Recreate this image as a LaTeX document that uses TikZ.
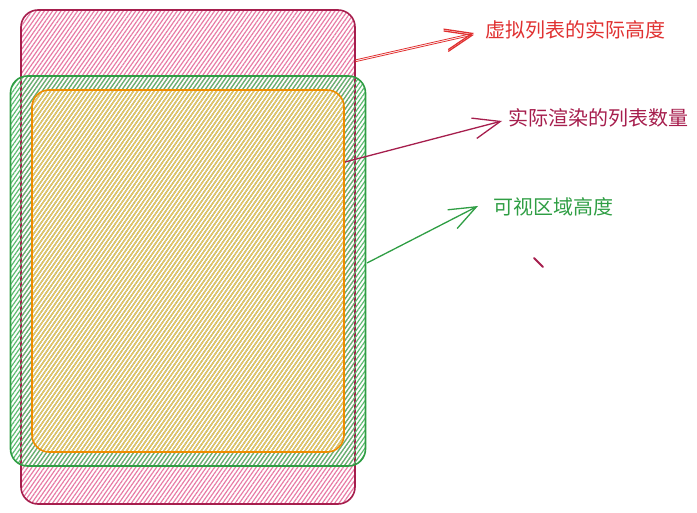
\documentclass[tikz,border=0pt]{standalone}
\usepackage{fontspec}
\newfontfamily\cjk{Noto Sans CJK SC}
\usetikzlibrary{patterns.meta,arrows.meta}
\definecolor{crimson}{HTML}{A61E4D}
\definecolor{pinkhatch}{HTML}{E87BA5}
\definecolor{grn}{HTML}{2F9E44}
\definecolor{grnhatch}{HTML}{5DBB70}
\definecolor{org}{HTML}{F08C00}
\definecolor{orghatch}{HTML}{F0C860}
\definecolor{redc}{HTML}{E03131}
\tikzset{
  box/.style={draw, rounded corners=17pt, inner sep=0pt, line width=1.6pt},
  hatch/.style={pattern={Lines[angle=55,distance=3.4pt,line width=1.2pt]}},
  lbl/.style={font=\cjk\fontsize{20}{22}\selectfont, anchor=west, inner sep=0pt},
  arr/.style={line width=1.3pt, -{Straight Barb[length=27pt,width=21pt,line width=1.3pt]}}
}
\begin{document}
\begin{tikzpicture}[x=1pt,y=-1pt]
\useasboundingbox (0,0) rectangle (697,513);
% pink outer
\node[box, draw=crimson, minimum width=334pt, minimum height=494pt,
  hatch, pattern color=pinkhatch] (pink) at (188,257) {};
% green
\node[box, draw=grn, minimum width=355pt, minimum height=390pt,
  hatch, pattern color=grnhatch] (green) at (188,271) {};
% orange
\node[box, draw=org, minimum width=312pt, minimum height=362pt,
  hatch, pattern color=orghatch] (orange) at (188,271) {};
% labels
\node[lbl, text=redc] (t1) at (485,30) {虚拟列表的实际高度};
\node[lbl, text=crimson] (t2) at (508,118) {实际渲染的列表数量};
\node[lbl, text=grn] (t3) at (493,207) {可视区域高度};
% arrow anchors
\coordinate (s1) at (355,60);
\coordinate (e1) at (474,33);
\coordinate (s2) at (345,162);
\coordinate (e2) at (502,121);
\coordinate (s3) at (367,263);
\coordinate (e3) at (478,206);
\coordinate (m1) at (534,258);
\coordinate (m2) at (543,267);
\draw[arr, draw=redc, line width=0.8pt] (s1) -- (e1);
\draw[arr, draw=redc, line width=0.8pt] ([yshift=-1.8pt]s1) -- ([yshift=-1.8pt]e1);
\draw[arr, draw=crimson] (s2) -- (e2);
\draw[arr, draw=grn] (s3) -- (e3);
\draw[crimson, line width=1.8pt, line cap=round] (m1) -- (m2);
\end{tikzpicture}
\end{document}
